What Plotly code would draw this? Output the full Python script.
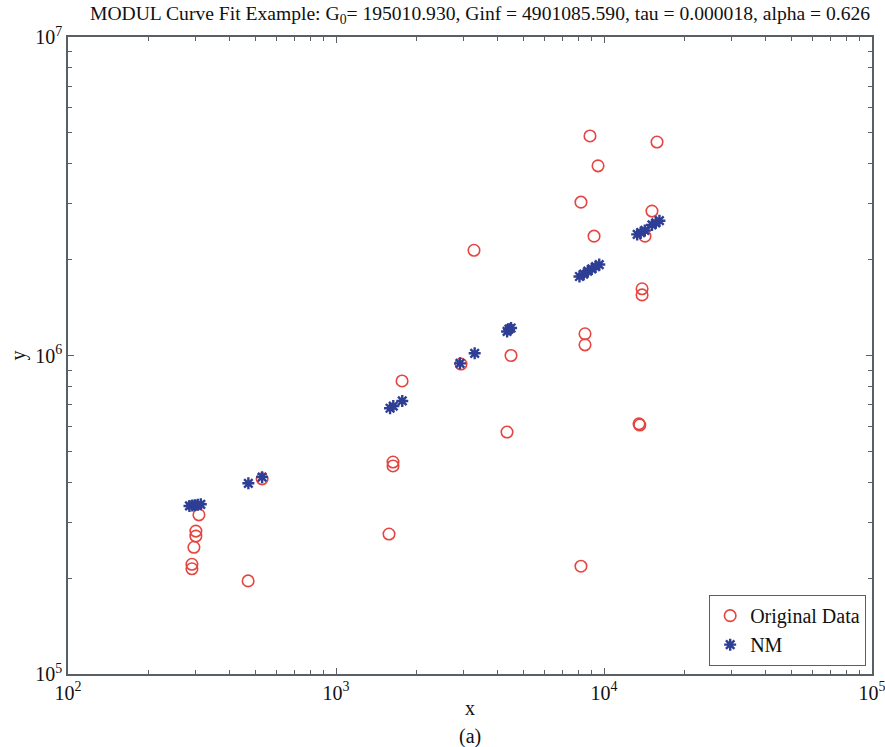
import plotly.graph_objects as go

# Original Data (red open circles)
orig_x = [290, 290, 295, 300, 300, 308, 470, 530, 1577, 1632, 1632, 1764, 2927, 3273,
          4346, 4498, 8204, 8204, 8494, 8494, 8865, 9180, 9500, 13510, 13600, 13870,
          13870, 14220, 15100, 15770]
orig_y = [2.14e5, 2.21e5, 2.50e5, 2.71e5, 2.81e5, 3.16e5, 1.96e5, 4.10e5, 2.75e5, 4.63e5,
          4.50e5, 8.32e5, 9.40e5, 2.14e6, 5.75e5, 1.00e6, 2.18e5, 3.03e6, 1.08e6, 1.17e6,
          4.89e6, 2.37e6, 3.94e6, 6.10e5, 6.05e5, 1.55e6, 1.62e6, 2.37e6, 2.84e6, 4.68e6]

# NM fit (blue asterisks)
nm_x = [284, 291, 298, 305, 313, 471, 530, 1591, 1636, 1767, 2902, 3292, 4350, 4420, 4500,
        8100, 8400, 8700, 9000, 9300, 9600, 13300, 13700, 14200, 15100, 15600, 16100]
nm_y = [3.37e5, 3.38e5, 3.39e5, 3.40e5, 3.41e5, 3.97e5, 4.15e5, 6.83e5, 6.94e5, 7.20e5,
        9.45e5, 1.016e6, 1.19e6, 1.21e6, 1.22e6, 1.77e6, 1.80e6, 1.84e6, 1.87e6, 1.90e6,
        1.93e6, 2.40e6, 2.43e6, 2.47e6, 2.57e6, 2.61e6, 2.65e6]

x_major = [1e2, 1e3, 1e4, 1e5]
x_labels = ["10<sup>2</sup>", "10<sup>3</sup>", "10<sup>4</sup>", "10<sup>5</sup>"]
y_major = [1e5, 1e6, 1e7]
y_labels = ["10<sup>5</sup>", "10<sup>6</sup>", "10<sup>7</sup>"]

title = ("MODUL Curve Fit Example: G<sub>0</sub>= 195010.930, Ginf = 4901085.590, "
         "tau = 0.000018, alpha = 0.626")

def minors(decades):
    return [m * d for d in decades[:-1] for m in range(2, 10)]

font = "Liberation Serif, Times New Roman, serif"
axcol = "#5a5f66"
FS = 20

fig = go.Figure()
fig.add_trace(go.Scatter(
    x=orig_x, y=orig_y, mode="markers", name="Original Data",
    marker=dict(symbol="circle-open", size=11.5, color="#e5443f", line=dict(width=1.6)),
))
fig.add_trace(go.Scatter(
    x=nm_x, y=nm_y, mode="markers", name="NM",
    marker=dict(symbol="asterisk-open", size=10, color="#2d3e94",
                line=dict(width=2.4, color="#2d3e94")),
))

common = dict(
    type="log", showgrid=False, zeroline=False, showline=True, linecolor=axcol,
    linewidth=1.5, mirror="ticks", ticks="inside", ticklen=6, tickcolor=axcol,
    tickwidth=1, tickfont=dict(family=font, size=FS, color="#111"), automargin=False,
    ticklabeloverflow="allow",
)

fig.update_layout(
    width=885, height=747,
    margin=dict(l=68, r=13, t=37, b=73),
    paper_bgcolor="white", plot_bgcolor="white",
    font=dict(family=font, color="#111"),
    xaxis=dict(**common, range=[2, 5.00001], tickmode="array", tickvals=x_major,
               ticktext=x_labels,
               minor=dict(tickmode="array", tickvals=minors(x_major), ticks="inside",
                          ticklen=4, tickcolor=axcol)),
    yaxis=dict(**common, range=[5, 7.00001], tickmode="array", tickvals=y_major,
               ticktext=y_labels,
               minor=dict(tickmode="array", tickvals=minors(y_major), ticks="inside",
                          ticklen=4, tickcolor=axcol)),
    legend=dict(x=0.9925, y=0.0126, xanchor="right", yanchor="bottom",
                bordercolor=axcol, borderwidth=1.2, bgcolor="white",
                font=dict(family=font, size=FS, color="#111"),
                itemwidth=30, tracegroupgap=0),
    showlegend=True,
)

fig.add_annotation(text=title, x=0.513, y=1.0, xref="paper", yref="paper",
                   yshift=22, showarrow=False, xanchor="center", yanchor="middle",
                   font=dict(family=font, size=19.6, color="#111"))
fig.add_annotation(text="x", x=0.5, y=0, xref="paper", yref="paper", yshift=-34,
                   showarrow=False, xanchor="center", yanchor="middle",
                   font=dict(family=font, size=FS, color="#111"))
fig.add_annotation(text="y", x=0, y=0.5, xref="paper", yref="paper", xshift=-50,
                   showarrow=False, textangle=-90, xanchor="center", yanchor="middle",
                   font=dict(family=font, size=FS, color="#111"))
fig.add_annotation(text="(a)", x=0.5, y=0, xref="paper", yref="paper", yshift=-62,
                   showarrow=False, xanchor="center", yanchor="middle",
                   font=dict(family=font, size=FS, color="#111"))

fig.write_html("out.html", config={"displayModeBar": False},
               post_script="document.body.style.margin='0';document.body.style.overflow='hidden';")
